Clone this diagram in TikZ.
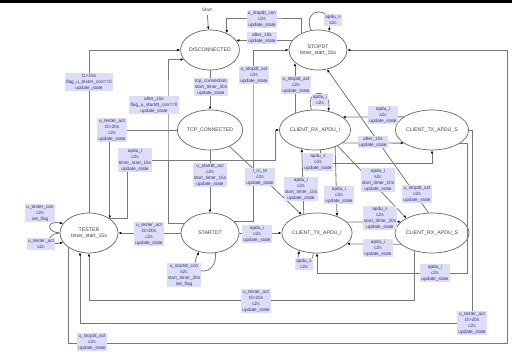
\documentclass[tikz,border=0pt]{standalone}
\usepackage{fontspec}
\setmainfont{Liberation Sans}
\usetikzlibrary{arrows.meta,calc,shapes.geometric}
\definecolor{lav}{RGB}{220,222,248}
\definecolor{lbltext}{RGB}{50,50,120}
\definecolor{edgegray}{RGB}{120,120,120}
\newcommand{\lblfont}{\fontsize{4.7}{6}\selectfont}
\newcommand{\statefont}{\fontsize{5.2}{6.4}\selectfont}

\begin{document}
\begin{tikzpicture}[x=1pt, y=-1pt, >={Latex[length=3pt,width=2.6pt,black]},
    state/.style={ellipse, draw=gray!80!black, line width=0.7pt, fill=white, minimum width=58pt,
        minimum height=40pt, inner sep=0pt, font=\statefont, align=center, text=black!75},
    lbl/.style={fill=lav, inner sep=1.2pt, font=\lblfont, align=center, text=lbltext},
    trans/.style={->, draw=edgegray, line width=0.8pt}]
    % 1. Khung
    \fill[white] (0,0) rectangle (512,352);
    \useasboundingbox (0,0) rectangle (512,352);
    \fill[black] (0,0) rectangle (512,3);

    % 2. Trạng thái
    \node[state] (disc) at (210,50) {DISCONNECTED};
    \node[state] (tcp) at (210,130) {TCP\_CONNECTED};
    \node[state] (stopdt) at (318,50) {STOPDT\\timer\_start\_15s};
    \node[state] (rxi) at (315,130) {CLIENT\_RX\_APDU\_I};
    \node[state] (txs) at (432,130) {CLIENT\_TX\_APDU\_S};
    \node[state] (tester) at (89,233) {TESTER\\timer\_start\_15s};
    \node[state] (startdt) at (210,233) {STARTDT};
    \node[state] (txi) at (317,233) {CLIENT\_TX\_APDU\_I};
    \node[state] (rxs) at (432,233) {CLIENT\_RX\_APDU\_S};
    \node[font=\lblfont, text=black!70] (start) at (207,10) {Start};

    % điểm gãy của các đường
    \coordinate (lo1) at (0,300);
    \coordinate (m3) at (0,163);
    \coordinate (m160) at (275,160);
    \coordinate (c168) at (168,100);
    \coordinate (c253) at (253,100);
    \coordinate (c467) at (467,273);
    \coordinate (c472) at (472,323);
    \coordinate (c507) at (507,343);

    % 3. Các cung chuyển trạng thái
    \draw[trans] (start) -- (disc);
    \draw[trans] (disc) -- (tcp);
    \draw[trans] (tcp) -- (startdt);
    \draw[trans] (startdt) -- (tester);
    \draw[trans] (startdt) -- (txi);
    \draw[trans] (startdt.-75) .. controls (218,278) and (186,276) .. (startdt.-120);
    \draw[trans] (tester.north) |- (disc.west);
    \draw[trans] (startdt.160) -| (c168) |- (disc.200);
    \draw[trans] (tcp.west) -| (tester.north east);
    \draw[trans] (tester.north east) -- ++(18,0) |- (m160) |- (rxi.west);
    \draw[trans] (tester.west) .. controls (46,232) and (46,220) .. (tester.160);
    \draw[trans] (tester.west) .. controls (46,234) and (46,246) .. (tester.200);
    \draw[trans] (startdt.25) -| (c253) |- (stopdt.west);
    \draw[trans] (stopdt.135) |- (264,18) -| (disc.45);
    \draw[trans] (stopdt.160) -- (disc.20);
    \draw[trans] (stopdt.110) .. controls (302,6) and (334,6) .. (stopdt.60);
    \draw[trans] (tester.215) |- (c507) |- (stopdt.east);
    \draw[trans] (rxs.225) |- (tester.south |- lo1) -- (tester.south);
    \draw[trans] (txs.east) -| (c472) -| (tester.245);
    \draw[trans] (txs.-25) -| (c467) -| (txi.south);
    \draw[trans] (txs.155) -- (rxi.25);
    \draw[trans] (rxi.-25) -- (txs.205);
    \draw[trans] (rxi.-75) |- (txs.south |- m3) -- (txs.south);
    \draw[trans] (rxi.100) .. controls (304,88) and (332,88) .. (rxi.55);
    \draw[trans] (rxi.140) -- ($(rxi.140)+(0,-50)$);
    \draw[trans] (rxs.100) -- (stopdt.-65);
    \draw[trans] (rxi.-35) -- (rxs.150);
    \draw[trans] (txi.20) -- (rxs.160);
    \draw[trans] (rxs.200) -- (txi.-20);
    \draw[trans] (tcp.-40) -- (txi.130);
    \draw[trans] (txi.125) -- (rxi.235);
    \draw[trans] (rxi.-40) -- (txi.40);
    \draw[trans] (txi.-100) .. controls (310,274) and (294,272) .. (txi.-135);

    % 4. Nhãn của các cung
    \node[lbl] (lTcp) at (211,87) {tcp\_connection\\start\_timer\_30s\\update\_state};
    \node[lbl] (lStartAct) at (210,175) {u\_startdt\_act\\c2s\\start\_timer\_15s\\update\_state};
    \node[lbl] (lTesterA) at (149,234) {u\_tester\_act\\t3>20s\\c2s\\update\_state};
    \node[lbl] (lApduA) at (257,234) {apdu\_i\\c2s\\update\_state};
    \node[lbl] (lStartCon) at (184,275) {u\_startdt\_con\\s2c\\start\_timer\_20s\\set\_flag};
    \node[lbl] (lT1) at (89,82) {t1>15s\\flag\_u\_tester\_con==0\\update\_state};
    \node[lbl] (lAfterA) at (154,105) {after\_15s\\flag\_u\_startdt\_con==0\\update\_state};
    \node[lbl] (lTesterB) at (112,130) {u\_tester\_act\\t3>20s\\c2s\\update\_state};
    \node[lbl] (lApduB) at (135,160) {apdu\_i\\c2s\\timer\_start\_15s\\update\_state};
    \node[lbl] (lTesterCon) at (40,213) {u\_tester\_con\\c2s\\set\_flag};
    \node[lbl] (lTesterAct) at (41,244) {u\_tester\_act\\s2c};
    \node[lbl] (lStopA) at (254,75) {u\_stopdt\_act\\c2s\\update\_state};
    \node[lbl] (lStopCon) at (262,19) {u\_stopdt\_con\\c2s\\update\_state};
    \node[lbl] (lAfterB) at (262,38) {after\_15s\\update\_state};
    \node[lbl] (lApduS) at (333,20) {apdu\_s\\s2c};
    \node[lbl] (lStopB) at (92,342) {u\_stopdt\_act\\c2s\\update\_state};
    \node[lbl] (lTesterC) at (256,301) {u\_tester\_act\\t3>20s\\c2s\\update\_state};
    \node[lbl] (lTesterD) at (472,323) {u\_tester\_act\\t3>20s\\c2s\\update\_state};
    \node[lbl] (lApduC) at (435,273) {apdu\_i\\c2s\\update\_state};
    \node[lbl] (lApduD) at (383,115) {apdu\_i\\s2c\\update\_state};
    \node[lbl] (lAfterC) at (373,142) {after\_10s\\update\_state};
    \node[lbl] (lApduE) at (318,162) {apdu\_s\\c2s\\update\_state};
    \node[lbl] (lApduF) at (320,100) {apdu\_i\\c2s};
    \node[lbl] (lStopC) at (296,85) {u\_stopdt\_act\\c2s\\update\_state};
    \node[lbl] (lStopD) at (417,194) {u\_stopdt\_act\\c2s\\update\_state};
    \node[lbl] (lApduG) at (378,180) {apdu\_i\\s2c\\start\_timer\_10s\\update\_state};
    \node[lbl] (lApduH) at (380,218) {apdu\_s\\c2s\\start\_timer\_20s\\update\_state};
    \node[lbl] (lApduI) at (378,248) {apdu\_i\\c2s\\update\_state};
    \node[lbl] (lRcTe) at (260,177) {t\_rc\_te\\c2s\\update\_state};
    \node[lbl] (lApduJ) at (301,189) {apdu\_i\\c2s\\start\_timer\_10s\\update\_state};
    \node[lbl] (lApduK) at (339,195) {apdu\_i\\c2s\\update\_state};
    \node[lbl] (lApduL) at (304,264) {apdu\_s\\c2s};
\end{tikzpicture}
\end{document}
